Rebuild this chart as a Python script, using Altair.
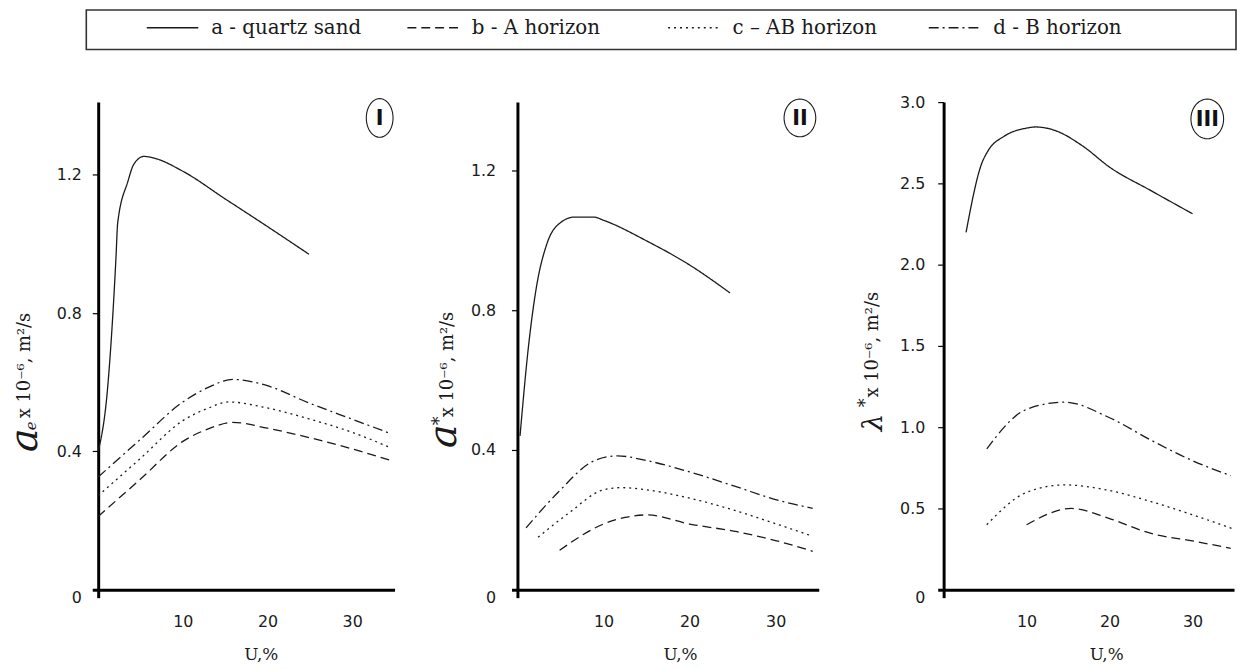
import math
import altair as alt
import pandas as pd

SERIES = ["a - quartz sand", "b - A horizon", "c – AB horizon", "d - B horizon"]

# ---------------- Panel I : a_e ----------------
I_a_x = [0, 1.1, 2.1, 2.3, 3.5, 4.2, 5.4, 6.6, 10, 15, 20, 24.9]
I_a_y = [0.40, 0.58, 0.96, 1.06, 1.18, 1.23, 1.253, 1.248, 1.21, 1.13, 1.05, 0.97]
I_b_x = [0, 5, 10, 13, 15.9, 20, 24.9, 29.9, 34.4]
I_b_y = [0.212, 0.32, 0.429, 0.465, 0.484, 0.467, 0.44, 0.408, 0.375]
I_c_x = [0, 5, 10, 13, 15.4, 19.7, 24.9, 29.9, 34.6]
I_c_y = [0.272, 0.38, 0.489, 0.525, 0.543, 0.527, 0.494, 0.456, 0.41]
I_d_x = [0, 5, 10, 13, 15.9, 19.7, 24.9, 29.9, 34.6]
I_d_y = [0.326, 0.435, 0.543, 0.585, 0.608, 0.592, 0.54, 0.494, 0.451]

# ---------------- Panel II : a* ----------------
II_a_x = [0.3, 1.3, 2.2, 3.4, 5.1, 6.6, 8.9, 10, 15, 20, 24.7]
II_a_y = [0.44, 0.70, 0.865, 0.988, 1.052, 1.066, 1.066, 1.057, 0.998, 0.929, 0.849]
II_b_x = [4.9, 10, 12.5, 15.1, 20, 25.5, 30.1, 34.3]
II_b_y = [0.113, 0.188, 0.207, 0.214, 0.188, 0.166, 0.14, 0.11]
II_c_x = [2.4, 6, 10, 12, 15.5, 20, 25.5, 30.1, 34.3]
II_c_y = [0.150, 0.22, 0.286, 0.292, 0.284, 0.262, 0.225, 0.188, 0.153]
II_d_x = [1.0, 4.7, 8.9, 11.6, 15.1, 20, 25.5, 30.1, 34.3]
II_d_y = [0.177, 0.278, 0.369, 0.383, 0.369, 0.337, 0.294, 0.257, 0.233]

# ---------------- Panel III : lambda* ----------------
III_a_x = [2.7, 4.56, 5.35, 7.3, 10, 11.1, 13.5, 16.7, 20, 25, 30]
III_a_y = [2.198, 2.618, 2.70, 2.79, 2.84, 2.847, 2.824, 2.732, 2.60, 2.455, 2.313]
III_b_x = [10, 15.4, 20, 25, 30, 34.6]
III_b_y = [0.40, 0.50, 0.438, 0.346, 0.30, 0.255]
III_c_x = [5.2, 10, 14.6, 20, 25, 30, 34.8]
III_c_y = [0.40, 0.599, 0.645, 0.61, 0.542, 0.461, 0.376]
III_d_x = [5.2, 10, 14.6, 20, 25, 30, 34.6]
III_d_y = [0.867, 1.11, 1.154, 1.058, 0.92, 0.794, 0.702]

Y_TICKS_I = [0, 0.4, 0.8, 1.2]
Y_TICKS_II = [0, 0.4, 0.8, 1.2]
Y_TICKS_III = [0, 0.5, 1.0, 1.5, 2.0, 2.5, 3.0]
X_TICKS = [0, 10, 20, 30]

# ---------------- styles ----------------
DASHES = [[1, 0], [9, 5], [2, 4], [10, 4, 2, 4]]
INK = "#1a1a1a"


def frame(xs_list, ys_list):
    rows = []
    for name, xs, ys in zip(SERIES, xs_list, ys_list):
        for x, y in zip(xs, ys):
            rows.append({"U": x, "v": y, "series": name})
    return pd.DataFrame(rows)


legend = alt.Legend(
    orient="none", legendX=48, legendY=-102, direction="horizontal", columns=4,
    gridAlign="all", columnPadding=43, padding=0,
    symbolType="stroke", symbolSize=2704, symbolStrokeWidth=1.4, symbolStrokeColor=INK,
    labelFont="DejaVu Serif", labelFontSize=20, labelColor=INK, labelOffset=12,
    labelLimit=400, title=None,
)


def ellipse_path(ratio, n=48):
    pts = []
    for i in range(n):
        t = 2 * math.pi * i / n
        pts.append(f"{math.sin(t):.4f},{-ratio * math.cos(t):.4f}")
    return "M" + "L".join(pts) + "Z"


def panel(df, ymax, yvals, width, xrange, lab_pad, numeral, ell_w, ell_h, cx, cy, pieces,
          frame_box=False):
    x_axis = alt.Axis(
        values=X_TICKS, labelExpr="datum.value == 0 ? '' : datum.label",
        domainColor="black", domainWidth=3, tickColor="black", tickWidth=3, tickSize=8,
        tickOpacity={"condition": {"test": "datum.value == 0", "value": 1}, "value": 0},
        labelFont="DejaVu Sans", labelFontSize=16, labelColor=INK, labelPadding=16,
        labelFlush=False, grid=False,
        title="U,%", titleFont="DejaVu Serif", titleFontSize=17, titleFontWeight="normal",
        titleColor=INK, titleX=164, titleY=65, titleAlign="center", titleBaseline="middle",
    )
    y_axis = alt.Axis(
        values=yvals, labelExpr="datum.value == 0 ? '0' : format(datum.value, '.1f')",
        domainColor="black", domainWidth=3, tickColor="black", tickSize=6,
        tickWidth={"condition": {"test": "datum.value == 0", "value": 3}, "value": 1.2},
        labelBaseline={"condition": {"test": "datum.value == 0", "value": "top"}, "value": "middle"},
        labelFont="DejaVu Sans", labelFontSize=16, labelColor=INK, labelPadding=lab_pad,
        labelFlush=False, grid=False, title=None,
    )
    lines = alt.Chart(df).mark_line(
        interpolate="monotone", color=INK, strokeWidth=1.3
    ).encode(
        x=alt.X("U:Q", scale=alt.Scale(domain=[0, 35], range=[0, xrange], nice=False, zero=False),
                axis=x_axis),
        y=alt.Y("v:Q", scale=alt.Scale(domain=[0, ymax], nice=False), axis=y_axis),
        strokeDash=alt.StrokeDash("series:N", scale=alt.Scale(domain=SERIES, range=DASHES),
                                  legend=legend),
    )
    ann = pd.DataFrame({"label": [numeral]})
    ring = alt.Chart(ann).mark_point(
        shape=ellipse_path(ell_h / ell_w), size=ell_w ** 2, filled=False,
        stroke=INK, strokeWidth=1.1, opacity=1,
    ).encode(x=alt.value(cx), y=alt.value(cy))
    num = alt.Chart(ann).mark_text(
        font="DejaVu Sans", fontWeight="bold", fontSize=21, color="#111",
        align="center", baseline="middle",
    ).encode(x=alt.value(cx), y=alt.value(cy + 1), text="label:N")
    layers = [lines, ring, num]
    for txt, fs, style, px, py in pieces:
        layers.append(
            alt.Chart(ann).mark_text(
                font="DejaVu Serif", fontSize=fs, fontStyle=style, color=INK,
                angle=270, align="left", baseline="alphabetic",
            ).encode(x=alt.value(px), y=alt.value(py), text=alt.value(txt))
        )
    if frame_box:
        layers.append(
            alt.Chart(ann).mark_rect(filled=False, stroke="#333", strokeWidth=1.6).encode(
                x=alt.value(-12), x2=alt.value(1148), y=alt.value(-93), y2=alt.value(-53)
            )
        )
    return alt.layer(*layers).properties(width=width, height=492)


REST = "x 10⁻⁶, m²/s"

p1 = panel(frame([I_a_x, I_b_x, I_c_x, I_d_x], [I_a_y, I_b_y, I_c_y, I_d_y]),
           1.41, Y_TICKS_I, 299, 299, 11, "I", 27, 39, 284, 16,
           [(REST, 18, "normal", -69, 319), ("a", 40, "italic", -62, 353),
            ("e", 15, "italic", -63, 331)], frame_box=True)
p2 = panel(frame([II_a_x, II_b_x, II_c_x, II_d_x], [II_a_y, II_b_y, II_c_y, II_d_y]),
           1.395, Y_TICKS_II, 306, 304, 16, "II", 32, 38, 285, 16,
           [(REST, 18, "normal", -65, 318), ("a", 40, "italic", -62, 349),
            ("*", 18, "normal", -73, 326)])
p3 = panel(frame([III_a_x, III_b_x, III_c_x, III_d_x], [III_a_y, III_b_y, III_c_y, III_d_y]),
           3.0, Y_TICKS_III, 293, 293, 13, "III", 33, 40, 266, 17,
           [(REST, 18, "normal", -66, 298), ("λ", 28, "italic", -62, 332),
            ("*", 18, "normal", -73, 308)])

chart = alt.hconcat(p1, p2, p3, spacing=124, bounds="flush").resolve_scale(
    strokeDash="shared", x="independent", y="independent"
).properties(
    padding={"left": -3, "top": -10, "right": 0, "bottom": 0}, background="white"
).configure_view(stroke=None)

chart.save("out.html", embed_options={"renderer": "svg", "actions": False})
